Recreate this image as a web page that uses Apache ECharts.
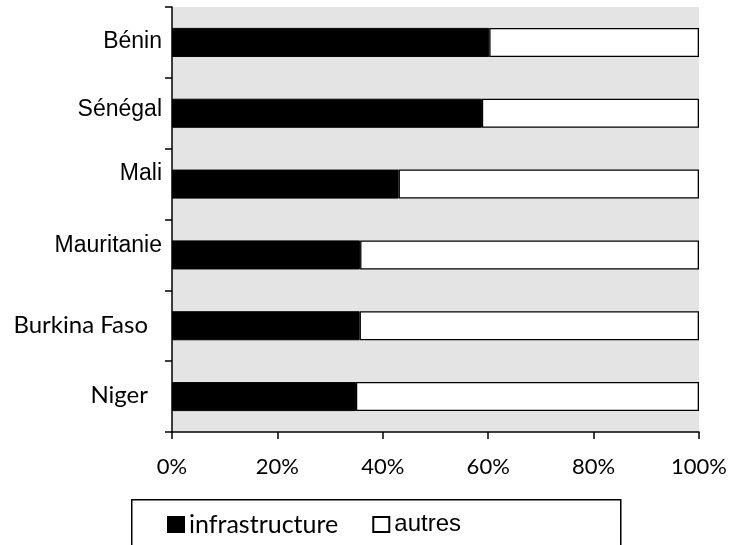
<!DOCTYPE html>
<html><head><meta charset="utf-8">
<script src="https://cdn.jsdelivr.net/npm/echarts@6/dist/echarts.min.js"></script>
<style>html,body{margin:0;padding:0;background:#fff}#c{width:731px;height:545px}</style>
</head><body><div id="c"></div>
<script>
const categories = ['Bénin', 'Sénégal', 'Mali', 'Mauritanie', 'Burkina Faso', 'Niger'];
const infrastructure = [60.2, 58.8, 43.0, 35.7, 35.6, 34.9];
const autres = infrastructure.map(v => +(100 - v).toFixed(1));
const xTicks = [0, 20, 40, 60, 80, 100];
const labelStyleKey = {'Bénin':'a', 'Sénégal':'b', 'Mali':'c', 'Mauritanie':'d', 'Burkina Faso':'e', 'Niger':'f'};

const arial = {fontFamily: 'Liberation Sans', fontSize: 23, color: '#000'};
const cal = {fontFamily: 'Lato', fontSize: 24, color: '#000'};

const chart = echarts.init(document.getElementById('c'), null, {renderer:'canvas'});
chart.setOption({
  animation: false,
  backgroundColor: '#fff',
  grid: {left: 172, right: 32, top: 7, bottom: 113, show: true, backgroundColor: '#e4e4e4', borderWidth: 0},
  xAxis: {
    type: 'value', min: xTicks[0], max: xTicks[xTicks.length-1], interval: 20,
    axisLine: {show: true, lineStyle: {color: '#000', width: 1.5}},
    axisTick: {show: true, length: 7, lineStyle: {color: '#000', width: 1.5}},
    splitLine: {show: false},
    axisLabel: {formatter: '{value}%', fontFamily: 'Lato', fontSize: 22, color: '#000', margin: 24}
  },
  yAxis: {
    type: 'category', data: categories, inverse: true,
    axisLine: {show: true, lineStyle: {color: '#000', width: 1.5}},
    axisTick: {show: true, length: 7, lineStyle: {color: '#000', width: 1.5}},
    axisLabel: {
      margin: 10, color: '#000',
      formatter: v => '{' + labelStyleKey[v] + '|' + v + '}',
      rich: {
        a: Object.assign({padding: [0,0,2,0]}, arial),
        b: Object.assign({padding: [0,0,8,0]}, arial),
        c: Object.assign({padding: [0,0,20,0]}, arial),
        d: Object.assign({padding: [0,0,18,0]}, arial),
        e: Object.assign({padding: [0,14,0,0]}, cal),
        f: Object.assign({padding: [0,14,2,0]}, cal)
      }
    }
  },
  legend: {
    left: 167, top: 512, itemWidth: 16, itemHeight: 15, itemGap: 34, padding: 0,
    icon: 'rect',
    data: [
      {name: 'infrastructure', textStyle: {fontFamily: 'Lato', fontSize: 25, color: '#000'}},
      {name: 'autres', textStyle: {fontFamily: 'Liberation Sans', fontSize: 24, color: '#000'}}
    ]
  },
  graphic: [{
    type: 'rect', left: 131, top: 499, z: -1,
    shape: {width: 489, height: 60},
    style: {fill: '#fff', stroke: '#000', lineWidth: 1.5}
  }],
  series: [
    {name: 'infrastructure', type: 'bar', stack: 's', data: infrastructure, barCategoryGap: '59%',
     itemStyle: {color: '#000', borderColor: '#000', borderWidth: 1}},
    {name: 'autres', type: 'bar', stack: 's', data: autres, barCategoryGap: '59%',
     itemStyle: {color: '#fff', borderColor: '#000', borderWidth: 1.3}}
  ]
});
</script></body></html>
